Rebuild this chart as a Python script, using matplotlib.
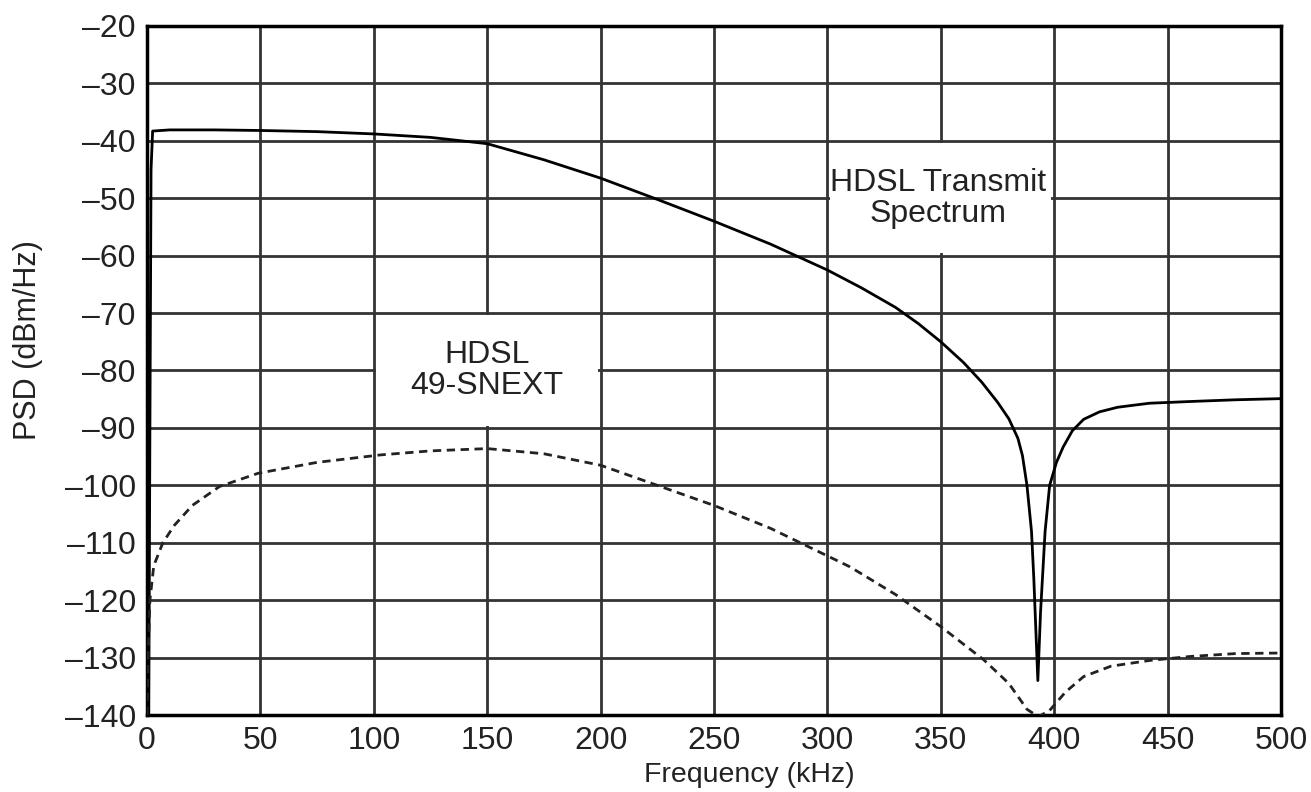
import matplotlib.pyplot as plt
from matplotlib.patches import Rectangle

plt.rcParams['font.family'] = ['Liberation Sans', 'DejaVu Sans']

# HDSL transmit spectrum (solid)
tx_freq = [0, 0.8, 1.3, 1.8, 2.5, 10, 30, 50, 75, 100, 125, 150, 175, 200, 225, 250, 275,
           300, 315, 330, 340, 350, 360, 368, 375, 380, 384, 386, 388, 390, 391, 392,
           392.8, 394, 396, 398, 401, 404, 408, 413, 420, 428, 442, 460, 480, 500]
tx_psd = [-140, -140, -90, -45, -38.3, -38.1, -38.1, -38.2, -38.4, -38.8, -39.4, -40.5,
          -43.3, -46.5, -50.2, -54, -58, -62.5, -65.6, -69, -71.8, -75, -78.6, -82,
          -85.5, -88.4, -91.8, -94.8, -100, -108, -116, -126, -134, -122, -108, -100,
          -96, -93.3, -90.5, -88.5, -87.2, -86.4, -85.7, -85.4, -85.1, -84.9]

# HDSL 49-SNEXT (dashed)
next_freq = [0, 0.5, 1.3, 3, 7, 12, 20, 32, 49, 75, 103, 125, 150, 175, 200, 225, 250,
             275, 310, 330, 350, 369, 380, 388, 393, 398, 405, 413, 425, 442, 460, 480, 500]
next_psd = [-140, -130, -120, -114, -110, -107, -103.5, -100.2, -97.9, -96, -94.7, -94,
            -93.6, -94.5, -96.5, -100, -103.5, -107.5, -114.2, -119, -124.6, -130.4,
            -134.5, -139, -140.3, -139.2, -136, -133.3, -131.5, -130.5, -129.8, -129.3, -129.2]

x_ticks = list(range(0, 501, 50))
y_ticks = list(range(-140, -19, 10))

fig = plt.figure(figsize=(13.11, 7.92), dpi=100)
ax = fig.add_axes([0.1121, 0.0972, 0.865, 0.8700])

ax.plot(tx_freq, tx_psd, color='black', lw=2, zorder=3)
ax.plot(next_freq, next_psd, color='#222222', lw=2, ls=(0, (3, 2)), zorder=3)

ax.set_xlim(0, 500)
ax.set_ylim(-140, -20)
ax.set_xticks(x_ticks)
ax.set_yticks(y_ticks)
ax.set_yticklabels([str(v).replace('-', '\u2013') for v in y_ticks])
ax.tick_params(length=0, labelsize=23, colors='#222222')
ax.tick_params(axis='x', pad=8)
ax.tick_params(axis='y', pad=8)
ax.grid(True, color='#333333', lw=2, zorder=0.5)
ax.set_axisbelow(True)
for s in ax.spines.values():
    s.set_linewidth(2.5)

ax.set_xlabel('Frequency (kHz)', fontsize=20.5, color='#222222')
ax.xaxis.set_label_coords(0.531, -0.068)
ax.set_ylabel('PSD (dBm/Hz)', fontsize=22, color='#222222', va='center')
ax.yaxis.set_label_coords(-0.105, 0.544)

# label boxes blank out the inner grid lines of a 2x2 cell block
ax.add_patch(Rectangle((301.2, -59.6), 97.6, 19.2, facecolor='white', edgecolor='none', zorder=0.8))
ax.add_patch(Rectangle((101.2, -89.6), 97.6, 19.2, facecolor='white', edgecolor='none', zorder=0.8))

ax.text(349, -50, 'HDSL Transmit\nSpectrum', fontsize=23, ha='center', va='center',
        color='#222222', linespacing=1.05, zorder=4)
ax.text(150, -80, 'HDSL\n49-SNEXT', fontsize=23, ha='center', va='center',
        color='#222222', linespacing=1.05, zorder=4)

fig.savefig('out.png', dpi=100)
